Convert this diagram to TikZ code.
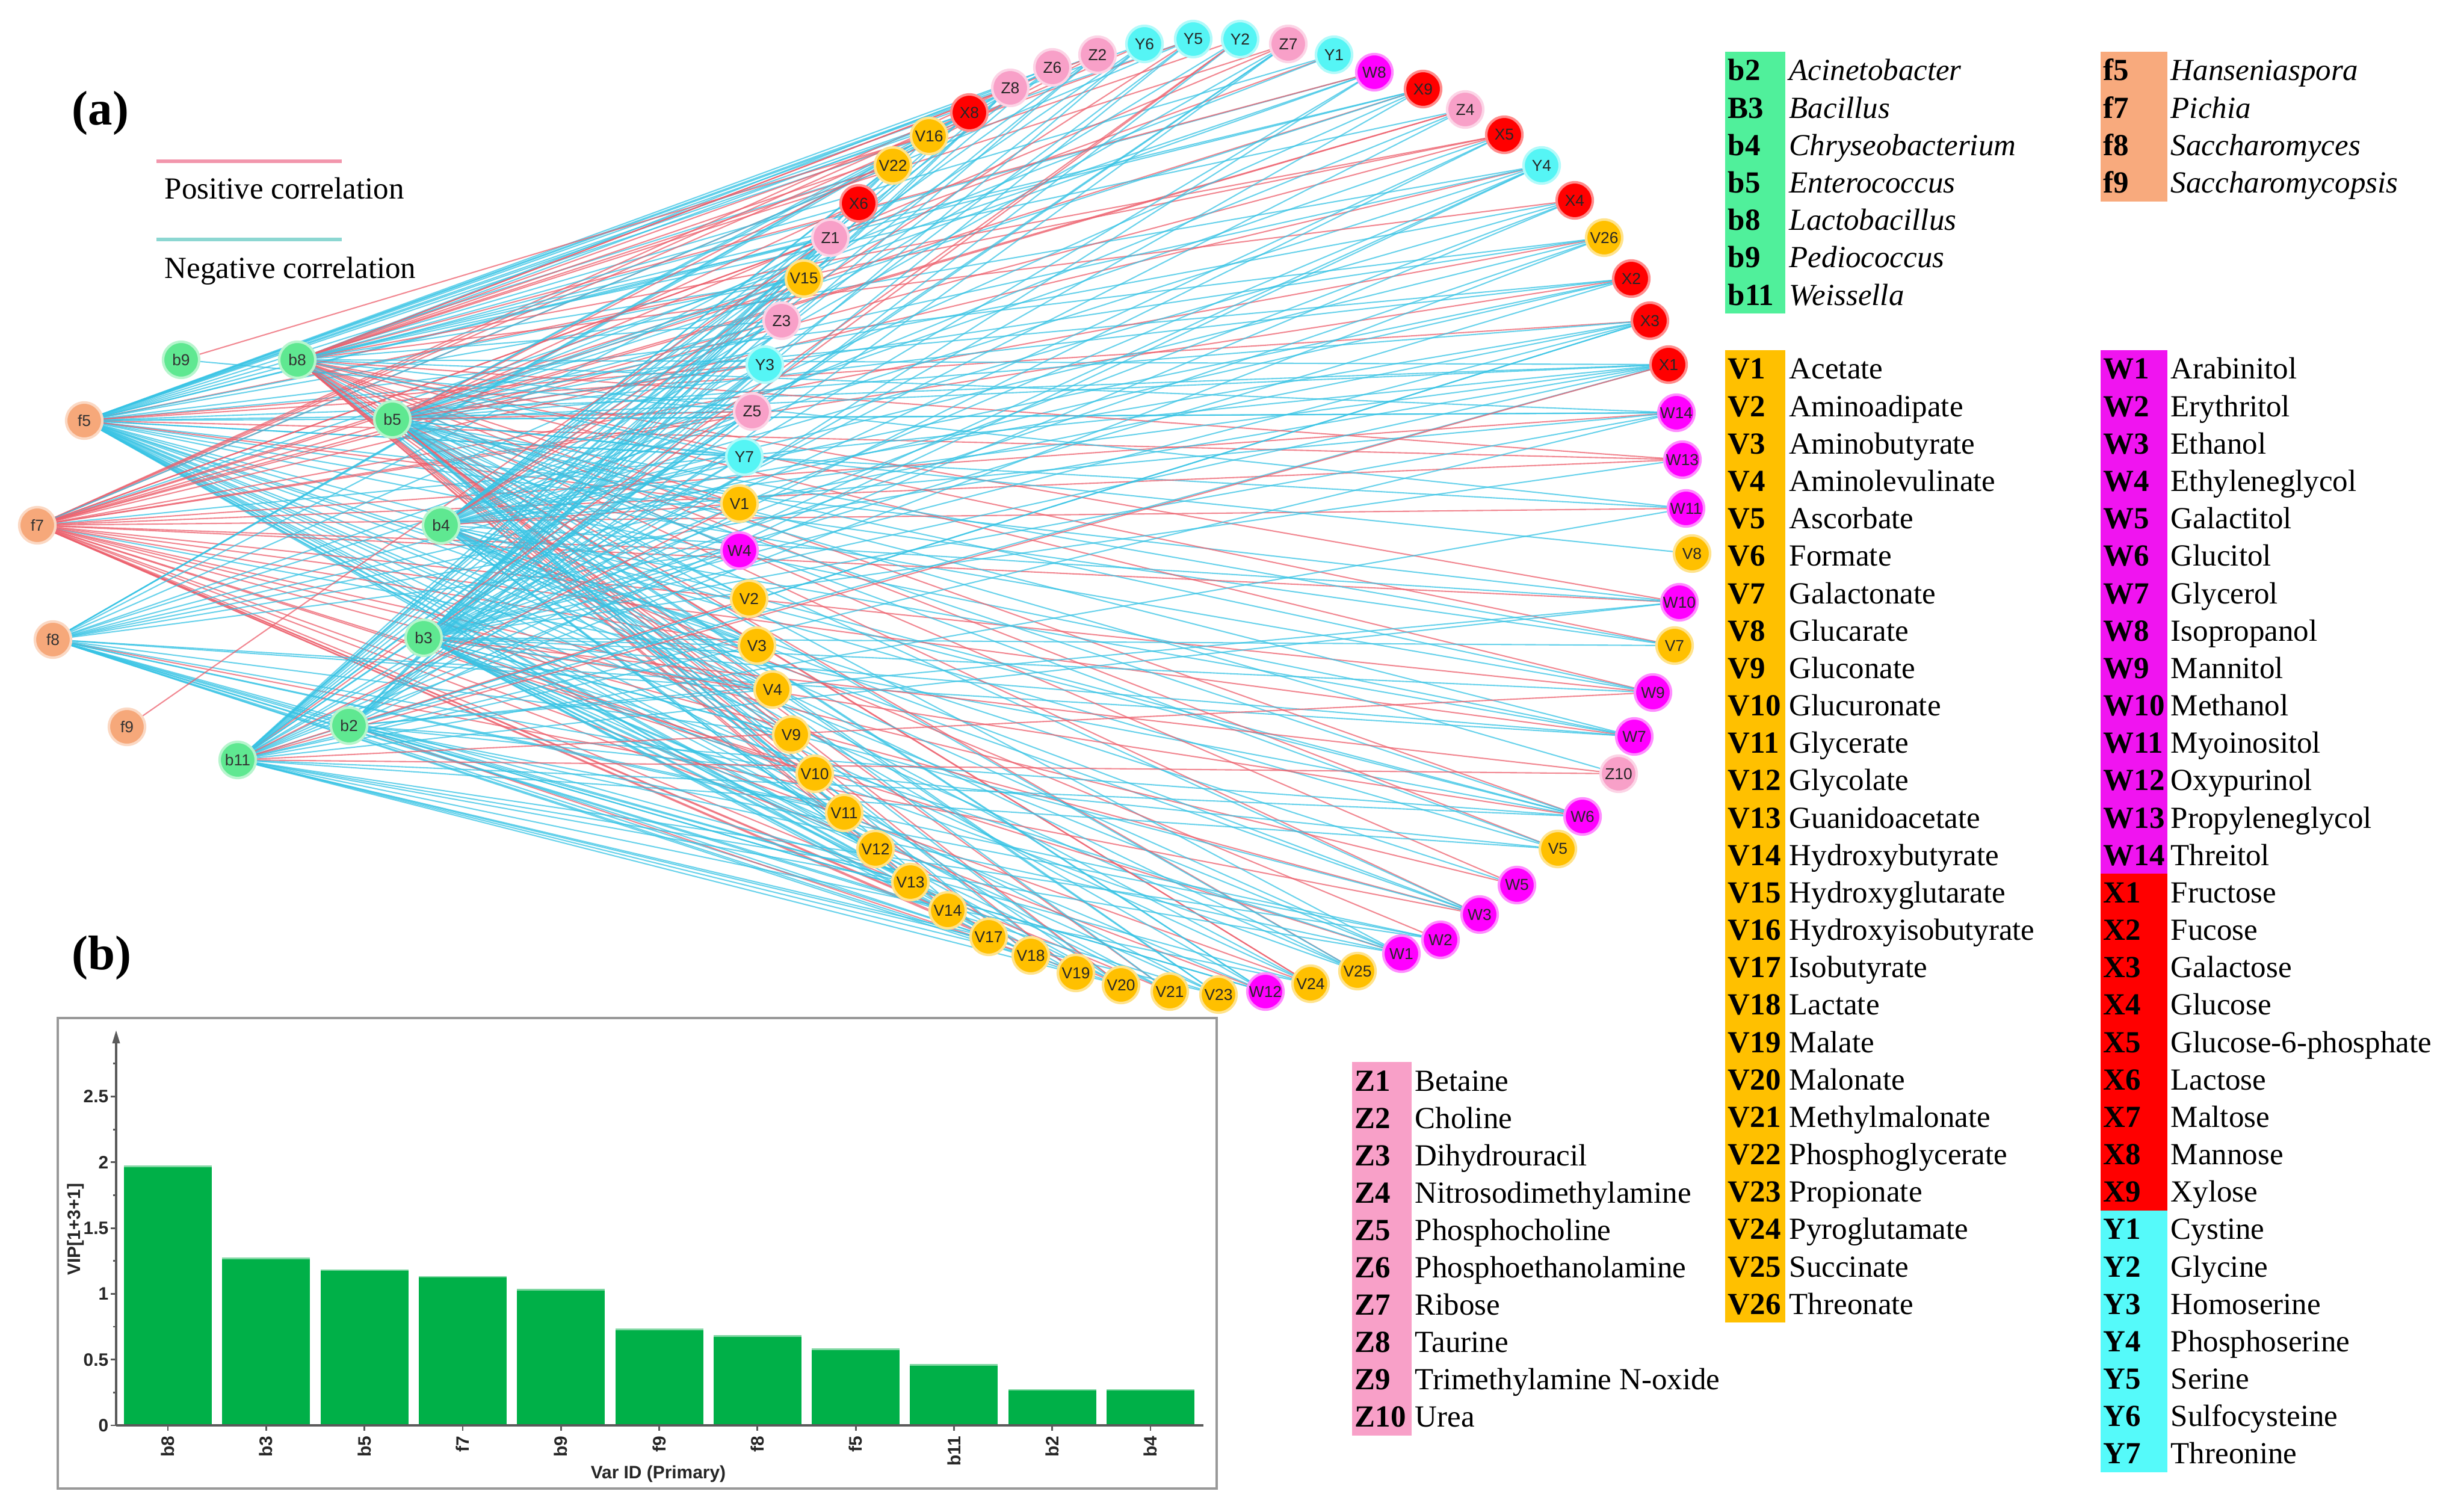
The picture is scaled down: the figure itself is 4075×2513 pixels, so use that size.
\documentclass[tikz,border=0pt]{standalone}
\usepackage{fontspec}
\setmainfont{Liberation Serif}
\setsansfont{Liberation Sans}
\usetikzlibrary{backgrounds,arrows.meta}
\definecolor{cV}{RGB}{255,192,0}
\definecolor{cW}{RGB}{255,0,255}
\definecolor{cX}{RGB}{255,0,0}
\definecolor{cY}{RGB}{85,245,245}
\definecolor{cZ}{RGB}{248,160,200}
\definecolor{cB}{RGB}{95,232,145}
\definecolor{cF}{RGB}{246,168,122}
\definecolor{lB}{RGB}{80,240,155}
\definecolor{lF}{RGB}{248,170,125}
\definecolor{lW}{RGB}{240,20,240}
\definecolor{lY}{RGB}{85,250,250}
\definecolor{poscol}{RGB}{236,95,108}
\definecolor{negcol}{RGB}{55,195,228}
\definecolor{barcol}{RGB}{0,176,72}
\definecolor{axcol}{RGB}{90,90,90}
\newcommand\edgefan[4]{%
  \pgfmathsetseed{#4}%
  \foreach \t in \targets {%
    \pgfmathsetmacro\ra{rnd}%
    \pgfmathsetmacro\rb{rnd}%
    \ifdim\ra pt<#2pt
      \ifdim\rb pt<#3pt \draw[posedge] (#1) -- (\t);\else \draw[negedge] (#1) -- (\t);\fi
    \fi
  }%
}
\def\targets{V22,V16,X8,Z8,Z6,Z2,Y6,Y5,Y2,Z7,Y1,W8,X9,Z4,X5,Y4,X4,V26,X2,X3,X1,W14,W13,W11,V8,W10,V7,W9,W7,Z10,W6,V5,W5,W3,W2,W1,V25,V24,W12,V23,V21,V20,V19,V18,V17,V14,V13,V12,V11,V10,V9,V4,V3,V2,W4,V1,Y7,Z5,Y3,Z3,V15,Z1,X6}
\tikzset{
  mnode/.style={circle, minimum size=0.6cm, inner sep=0pt, line width=1.2pt,
    font=\sffamily\fontsize{7.5}{8}\selectfont, text=black!85},
  posedge/.style={draw=poscol, line width=0.6pt, opacity=0.75},
  negedge/.style={draw=negcol, line width=0.6pt, opacity=0.75},
  leg/.style={anchor=base west, inner sep=0pt, font=\fontsize{14.5}{17}\selectfont},
  legb/.style={anchor=base west, inner sep=0pt, font=\bfseries\fontsize{14.5}{17}\selectfont},
  legi/.style={anchor=base west, inner sep=0pt, font=\itshape\fontsize{14.5}{17}\selectfont},
  chart/.style={inner sep=0pt, font=\sffamily\bfseries\fontsize{8.5}{9}\selectfont, text=black!85},
}
\begin{document}
\begin{tikzpicture}[x=0.01cm, y=-0.01cm]
\useasboundingbox (0,0) rectangle (4075,2513);

% ---------- circle of metabolites ----------
\foreach \n/\x/\y/\c in {
 V22/1484/275/V, V16/1544/226/V, X8/1611/187/X, Z8/1679/146/Z, Z6/1749/112/Z,
 Z2/1824/91/Z, Y6/1902/73/Y, Y5/1983/65/Y, Y2/2061/65/Y, Z7/2141/73/Z,
 Y1/2217/91/Y, W8/2284/120/W, X9/2365/148/X, Z4/2435/182/Z, X5/2500/224/X,
 Y4/2562/275/Y, X4/2617/333/X, V26/2666/395/V, X2/2711/463/X, X3/2742/533/X,
 X1/2773/606/X, W14/2786/686/W, W13/2796/764/W, W11/2802/845/W, V8/2812/920/V,
 W10/2791/1001/W, V7/2783/1073/V, W9/2747/1151/W, W7/2716/1224/W, Z10/2690/1286/Z,
 W6/2630/1357/W, V5/2589/1411/V, W5/2521/1471/W, W3/2459/1520/W, W2/2394/1562/W,
 W1/2329/1585/W, V25/2256/1614/V, V24/2178/1635/V, W12/2103/1648/W, V23/2025/1653/V,
 V21/1944/1648/V, V20/1863/1637/V, V19/1788/1617/V, V18/1713/1588/V, V17/1643/1557/V,
 V14/1575/1513/V, V13/1513/1466/V, V12/1455/1411/V, V11/1403/1351/V, V10/1354/1286/V,
 V9/1315/1221/V, V4/1284/1146/V, V3/1258/1073/V, V2/1245/995/V, W4/1229/915/W,
 V1/1229/837/V, Y7/1237/759/Y, Z5/1250/684/Z, Y3/1271/606/Y, Z3/1299/533/Z,
 V15/1336/463/V, Z1/1380/395/Z, X6/1427/338/X}
  \node[mnode, fill=c\c, draw=c\c!45] (\n) at (\x,\y) {\n};

% ---------- microbes ----------
\foreach \n/\x/\y/\c in {
 b9/301/598/B, b8/494/598/B, f5/140/699/F, b5/652/697/B, f7/62/873/F,
 b4/733/873/B, f8/88/1063/F, b3/704/1060/B, f9/211/1208/F, b2/580/1206/B, b11/395/1263/B}
  \node[mnode, fill=c\c, draw=c\c!45, text=black!80] (\n) at (\x,\y) {\n};

% ---------- correlations ----------
\begin{pgfonlayer}{background}
\edgefan{f5}{0.7}{0.08}{11}
\edgefan{f7}{0.68}{0.94}{23}
\edgefan{f8}{0.5}{0.1}{37}
\edgefan{b8}{0.65}{0.55}{41}
\edgefan{b5}{0.72}{0.2}{53}
\edgefan{b4}{0.65}{0.12}{67}
\edgefan{b3}{0.75}{0.15}{71}
\edgefan{b2}{0.45}{0.1}{83}
\edgefan{b11}{0.55}{0.1}{97}
\draw[posedge] (f9) -- (Z1);
\draw[posedge] (b9) -- (V16);
\draw[negedge] (b9) -- (Z5);
\end{pgfonlayer}

% ---------- panel labels and line legend ----------
\node[anchor=base west, inner sep=0pt, font=\bfseries\fontsize{23}{26}\selectfont] (lab-a) at (119,208) {(a)};
\node[anchor=base west, inner sep=0pt, font=\bfseries\fontsize{23}{26}\selectfont] (lab-b) at (119,1611) {(b)};
\coordinate (pl1) at (260,268); \coordinate (pl2) at (568,268);
\coordinate (nl1) at (260,398); \coordinate (nl2) at (568,398);
\draw[draw={rgb,255:red,242;green,150;blue,172}, line width=1.5pt] (pl1) -- (pl2);
\draw[draw={rgb,255:red,140;green,215;blue,210}, line width=1.5pt] (nl1) -- (nl2);
\node[leg] (poslab) at (273,331) {Positive correlation};
\node[leg] (neglab) at (273,463) {Negative correlation};

% ---------- microbe legend ----------
\fill[lB] (2867,86) rectangle (2967,521);
\fill[lF] (3491,86) rectangle (3602,335);
\foreach \c/\t [count=\i from 0] in {b2/Acinetobacter, B3/Bacillus, b4/Chryseobacterium,
  b5/Enterococcus, b8/Lactobacillus, b9/Pediococcus, b11/Weissella} {
  \node[legb] (lb\i) at (2871,{117+62.2*\i+17}) {\c};
  \node[legi] (lbn\i) at (2973,{117+62.2*\i+17}) {\t};
}
\foreach \c/\t [count=\i from 0] in {f5/Hanseniaspora, f7/Pichia, f8/Saccharomyces, f9/Saccharomycopsis} {
  \node[legb] (lf\i) at (3495,{117+62.2*\i+17}) {\c};
  \node[legi] (lfn\i) at (3607,{117+62.2*\i+17}) {\t};
}

% ---------- V legend ----------
\fill[cV] (2867,582) rectangle (2967,2198);
\foreach \c/\t [count=\i from 0] in {V1/Acetate, V2/Aminoadipate, V3/Aminobutyrate,
  V4/Aminolevulinate, V5/Ascorbate, V6/Formate, V7/Galactonate, V8/Glucarate,
  V9/Gluconate, V10/Glucuronate, V11/Glycerate, V12/Glycolate, V13/Guanidoacetate,
  V14/Hydroxybutyrate, V15/Hydroxyglutarate, V16/Hydroxyisobutyrate, V17/Isobutyrate,
  V18/Lactate, V19/Malate, V20/Malonate, V21/Methylmalonate, V22/Phosphoglycerate,
  V23/Propionate, V24/Pyroglutamate, V25/Succinate, V26/Threonate} {
  \node[legb] (lv\i) at (2871,{613+62.17*\i+17}) {\c};
  \node[leg] (lvn\i) at (2973,{613+62.17*\i+17}) {\t};
}

% ---------- W / X / Y legend ----------
\fill[lW] (3491,582) rectangle (3602,1452);
\fill[cX] (3491,1452) rectangle (3602,2012);
\fill[lY] (3491,2012) rectangle (3602,2447);
\foreach \c/\t [count=\i from 0] in {W1/Arabinitol, W2/Erythritol, W3/Ethanol,
  W4/Ethyleneglycol, W5/Galactitol, W6/Glucitol, W7/Glycerol, W8/Isopropanol,
  W9/Mannitol, W10/Methanol, W11/Myoinositol, W12/Oxypurinol, W13/Propyleneglycol,
  W14/Threitol, X1/Fructose, X2/Fucose, X3/Galactose, X4/Glucose,
  X5/Glucose-6-phosphate, X6/Lactose, X7/Maltose, X8/Mannose, X9/Xylose,
  Y1/Cystine, Y2/Glycine, Y3/Homoserine, Y4/Phosphoserine, Y5/Serine,
  Y6/Sulfocysteine, Y7/Threonine} {
  \node[legb] (lw\i) at (3495,{613+62.17*\i+17}) {\c};
  \node[leg] (lwn\i) at (3607,{613+62.17*\i+17}) {\t};
}

% ---------- Z legend ----------
\fill[cZ] (2247,1765) rectangle (2346,2386);
\foreach \c/\t [count=\i from 0] in {Z1/Betaine, Z2/Choline, Z3/Dihydrouracil,
  Z4/Nitrosodimethylamine, Z5/Phosphocholine, Z6/Phosphoethanolamine, Z7/Ribose,
  Z8/Taurine, Z9/Trimethylamine N-oxide, Z10/Urea} {
  \node[legb] (lz\i) at (2251,{1796+62.1*\i+17}) {\c};
  \node[leg] (lzn\i) at (2351,{1796+62.1*\i+17}) {\t};
}

% ---------- bar chart ----------
\draw[draw=black!40, line width=1.2pt] (96,1692) rectangle (2022,2474);
\foreach \n/\v [count=\i from 0] in {b8/1.97, b3/1.27, b5/1.18, f7/1.13, b9/1.03,
  f9/0.73, f8/0.68, f5/0.58, b11/0.46, b2/0.27, b4/0.27} {
  \pgfmathsetmacro\xl{206+163.3*\i}
  \pgfmathsetmacro\xc{\xl+73}
  \fill[barcol] (\xl,2369) rectangle ({\xl+146},{2369-\v*218.6});
  \draw[draw=barcol!50!white, line width=0.8pt] (\xl,{2369-\v*218.6}) -- ({\xl+146},{2369-\v*218.6});
  \draw[axcol, line width=0.8pt] (\xc,2369) -- (\xc,2378);
  \node[chart, rotate=90, anchor=east] (xl\i) at (\xc,2386) {\n};
}
\draw[axcol, line width=1pt] (193,2369) -- (2000,2369);
\draw[axcol, line width=1pt, -{Triangle[length=0.22cm,width=0.12cm]}] (193,2369) -- (193,1712);
\foreach \v [count=\i from 0] in {0,0.5,1,1.5,2,2.5} {
  \draw[axcol, line width=0.8pt] (184,{2369-\v*218.6}) -- (193,{2369-\v*218.6});
  \node[chart, anchor=east] (yl\i) at (181,{2369-\v*218.6}) {\v};
}
\foreach \v in {0.25,0.75,1.25,1.75,2.25,2.75}
  \draw[axcol, line width=0.8pt] (188,{2369-\v*218.6}) -- (193,{2369-\v*218.6});
\node[chart] (xtitle) at (1094,2450) {Var ID (Primary)};
\node[chart, rotate=90] (ytitle) at (126,2043) {VIP[1+3+1]};
\end{tikzpicture}
\end{document}
